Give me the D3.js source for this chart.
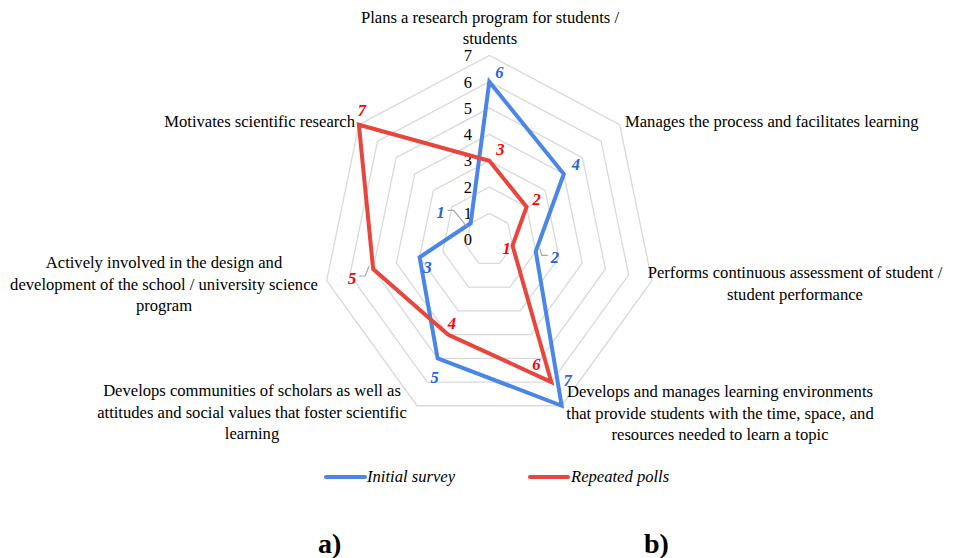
<!DOCTYPE html>
<html lang="en">
<head>
    <meta charset="UTF-8">
    <title>Radar chart</title>
    <style>
        body { margin: 0; background: #fff; }
        svg, svg text { font-family: "Liberation Serif", "DejaVu Serif", serif; }
        .ring { fill: none; stroke: #d9d9d9; stroke-width: 1.3; }
        .cat { font-size: 16.6px; fill: #000; }
        .tick { font-size: 16.5px; fill: #000; }
        .dlabel { font-size: 16.5px; font-style: italic; font-weight: bold; }
        .leader { fill: none; stroke: #a6a6a6; stroke-width: 1.2; }
    </style>
</head>
<body>
<div id="chart"></div>
<script src="https://d3js.org/d3.v7.min.js"></script>
<script>
    // categories clockwise from the top, each split into its printed lines
    const categories = [
        ["Plans a research program for students /", "students"],
        ["Manages the process and facilitates learning"],
        ["Performs continuous assessment of student /", "student performance"],
        ["Develops and manages learning environments", "that provide students with the time, space, and", "resources needed to learn a topic"],
        ["Develops communities of scholars as well as", "attitudes and social values that foster scientific", "learning"],
        ["Actively involved in the design and", "development of the school / university science", "program"],
        ["Motivates scientific research"]
    ];
    const initialSurvey = [6, 4, 2, 7, 5, 3, 1];
    const repeatedPolls = [3, 2, 1, 6, 4, 5, 7];
    const tickValues = [0, 1, 2, 3, 4, 5, 6, 7];
    const seriesNames = ["Initial survey", "Repeated polls"];

    const width = 961, height = 558;
    const cx = 489.3, cy = 239.7;
    const serif = '"Liberation Serif", "DejaVu Serif", serif';

    const svg = d3.select("#chart").append("svg")
        .attr("width", width)
        .attr("height", height)
        .attr("font-family", serif);
    svg.append("rect").attr("width", width).attr("height", height).attr("fill", "#fff");

    // picture is a little squeezed horizontally
    const ry = d3.scaleLinear().domain([0, 7]).range([0, 184.3]);
    const rx = d3.scaleLinear().domain([0, 7]).range([0, 166.8]);
    const angle = i => i * 2 * Math.PI / categories.length;
    const px = (i, v) => cx + rx(v) * Math.sin(angle(i));
    const py = (i, v) => cy - ry(v) * Math.cos(angle(i));

    const closed = d3.line().curve(d3.curveLinearClosed);

    // grid rings
    svg.append("g").selectAll("path")
        .data(tickValues.filter(d => d > 0))
        .enter().append("path")
        .attr("class", "ring")
        .attr("d", v => closed(categories.map((c, i) => [px(i, v), py(i, v)])));

    // value axis tick labels
    svg.append("g").selectAll("text")
        .data(tickValues)
        .enter().append("text")
        .attr("class", "tick")
        .attr("font-family", serif)
        .attr("x", 472)
        .attr("y", d => py(0, d))
        .attr("dy", "0.35em")
        .attr("text-anchor", "end")
        .text(d => d);

    // category labels: anchor, first baseline and line step for each one
    const catPos = [
        {x: 490, y: 22.5, anchor: "middle", step: 21},
        {x: 625, y: 127, anchor: "start", step: 21.5},
        {x: 795, y: 278, anchor: "middle", step: 21.5},
        {x: 720, y: 397, anchor: "middle", step: 21.5},
        {x: 252, y: 396, anchor: "middle", step: 21.5},
        {x: 164, y: 268, anchor: "middle", step: 21.5},
        {x: 355, y: 127, anchor: "end", step: 21.5}
    ];
    categories.forEach((lines, i) => {
        const t = svg.append("text")
            .attr("class", "cat")
            .attr("font-family", serif)
            .attr("x", catPos[i].x)
            .attr("y", catPos[i].y)
            .attr("text-anchor", catPos[i].anchor);
        lines.forEach((l, j) => {
            t.append("tspan").attr("x", catPos[i].x).attr("dy", j === 0 ? 0 : catPos[i].step).text(l);
        });
    });

    const series = [
        {name: seriesNames[0], values: initialSurvey, line: "#4a86e8", label: "#2563d6",
         offsets: [[10, -10], [12, -10], [19, 6], [6, -26], [-3, 19], [8, 10], [-30, -11]],
         leaders: [6, 2]},
        {name: seriesNames[1], values: repeatedPolls, line: "#e8453c", label: "#ff0000",
         offsets: [[11, -11], [10, -8], [-6, 3], [-15, -18], [4, -11], [-21, 9], [3, -15]],
         leaders: [5]}
    ];

    series.forEach(s => {
        svg.append("path")
            .attr("d", closed(s.values.map((v, i) => [px(i, v), py(i, v)])))
            .attr("fill", "none")
            .attr("stroke", s.line)
            .attr("stroke-width", 4)
            .attr("stroke-linejoin", "miter");
    });

    series.forEach(s => {
        const g = svg.append("g");
        s.values.forEach((v, i) => {
            const x0 = px(i, v), y0 = py(i, v);
            const lx = x0 + s.offsets[i][0], ly = y0 + s.offsets[i][1];
            if (s.leaders.includes(i)) {
                const side = lx < x0 ? 1 : -1;
                const sx = lx + side * 7;
                g.append("path")
                    .attr("class", "leader")
                    .attr("d", d3.line()([[sx, ly - 2], [sx + side * 6, ly - 2], [x0 - side * 4, y0 - 3 * (ly < y0 ? -1 : 1)]]));
            }
            g.append("text")
                .attr("class", "dlabel")
                .attr("font-family", serif)
                .attr("x", lx)
                .attr("y", ly)
                .attr("dy", "0.35em")
                .attr("text-anchor", "middle")
                .attr("fill", s.label)
                .text(v);
        });
    });

    // legend
    const legend = svg.append("g").attr("transform", "translate(0,477)");
    [[326, 365, 367], [530, 568, 571]].forEach((p, k) => {
        legend.append("line")
            .attr("x1", p[0]).attr("x2", p[1])
            .attr("stroke", series[k].line)
            .attr("stroke-width", 4)
            .attr("stroke-linecap", "round");
        legend.append("text")
            .attr("x", p[2]).attr("y", 5)
            .attr("font-family", serif)
            .attr("font-size", 16.6)
            .attr("font-style", "italic")
            .text(series[k].name);
    });

    // panel letters
    svg.append("text").attr("x", 318).attr("y", 553)
        .attr("font-family", serif)
        .attr("font-size", 28).attr("font-weight", "bold").text("a)");
    svg.append("text").attr("x", 644).attr("y", 553)
        .attr("font-family", serif)
        .attr("font-size", 28).attr("font-weight", "bold").text("b)");
</script>
</body>
</html>
